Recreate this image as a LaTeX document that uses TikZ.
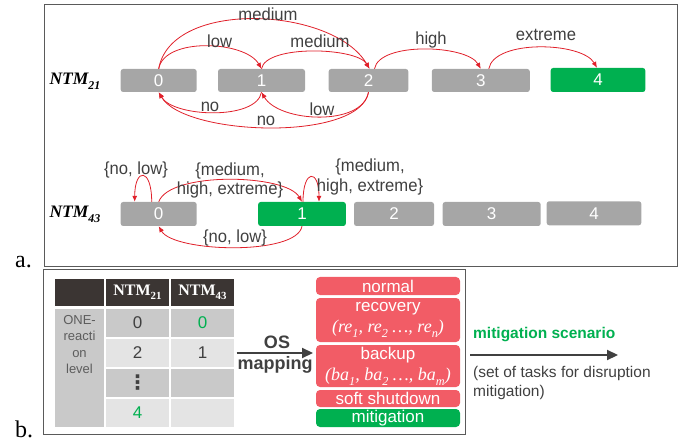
\documentclass[tikz,border=0pt]{standalone}
\usepackage{fontspec}
\usepackage{graphicx}
\setmainfont{Liberation Sans}
\newfontfamily\serf{Liberation Serif}
\newfontfamily\dejavu{DejaVu Sans}
\newfontfamily\narrow[FakeStretch=0.95]{Liberation Sans}
\usetikzlibrary{arrows.meta}
\definecolor{boxgray}{HTML}{A6A6A6}
\definecolor{grn}{HTML}{00B050}
\definecolor{arr}{HTML}{E0202A}
\definecolor{salmon}{HTML}{F25C66}
\definecolor{hdr}{HTML}{3B3533}
\definecolor{cellA}{HTML}{C9C9C9}
\definecolor{cellB}{HTML}{E4E4E4}
\definecolor{txt}{HTML}{404040}
\definecolor{frm}{HTML}{5A5A5A}
\newcommand\lsub[1]{\raisebox{-0.28em}{\scalebox{0.68}{#1}}}
\newcommand\fs[1]{\fontsize{#1}{#1}\selectfont}
\begin{document}
\begin{tikzpicture}[x=1pt,y=1pt,
  state/.style={rounded corners=2.5pt, fill=boxgray, text=white, font=\fs{17},
    minimum height=23pt, inner sep=0pt},
  lab/.style={font=\narrow\fontsize{17.5}{19.5}\selectfont, text=txt, inner sep=0pt, align=center},
  rarr/.style={draw=arr, line width=0.8pt, -{Latex[length=6pt,width=5pt]}},
  rowlab/.style={font=\fs{17.5}, inner sep=0pt},
  cell/.style={draw=white, line width=1.4pt, inner sep=0pt, font=\fs{17}, text=txt},
  osbox/.style={rounded corners=4pt, fill=salmon, text=white, minimum width=144pt,
    inner sep=0pt, font=\fontsize{17}{22}\selectfont, align=center},
  bigarr/.style={draw=txt, line width=2.2pt, -{Triangle[length=11pt,width=10pt]}},
  frame/.style={draw=frm, line width=1pt}
]
\useasboundingbox (0,0) rectangle (689,-441);

% ---------- panel a ----------
\draw[frame] (44,-5) rectangle (677,-267);
\node[font=\serf\fs{24}, anchor=base west, inner sep=0pt] (la) at (15,-268) {a.};

\node[rowlab] (n21) at (75,-81) {\serf\bfseries\itshape NTM\lsub{21}};
\node[state, minimum width=76pt] (a0) at (158.7,-80.5) {0};
\node[state, minimum width=87pt] (a1) at (261.5,-80.5) {1};
\node[state, minimum width=79.6pt] (a2) at (368.5,-80.5) {2};
\node[state, minimum width=98pt] (a3) at (480.8,-80.5) {3};
\node[state, minimum width=94.6pt, minimum height=24pt, fill=grn] (a4) at (598,-80) {4};

\draw[rarr] (a0.north) to[out=80,in=120,looseness=0.81] (a1.north);
\draw[rarr] (a0.north) to[out=80,in=120,looseness=0.87] ([xshift=1pt]a2.north);
\draw[rarr] (a1.north) to[out=80,in=120,looseness=0.59] ([xshift=1pt]a2.north);
\draw[rarr] ([xshift=6pt]a2.north) to[out=80,in=120,looseness=0.67] (a3.north);
\draw[rarr] ([xshift=8pt]a3.north) to[out=80,in=120,looseness=0.71] ([xshift=-1pt]a4.north);
\draw[rarr] (a1.south) to[out=-100,in=-60,looseness=0.72] (a0.south);
\draw[rarr] (a2.south) to[out=-100,in=-60,looseness=0.84] (a1.south);
\draw[rarr] (a2.south) to[out=-100,in=-60,looseness=0.62] (a0.south);

\node[lab] (tmed1) at (268,-14) {medium};
\node[lab] (tlow1) at (219.6,-41) {low};
\node[lab] (tmed2) at (320,-41) {medium};
\node[lab] (thigh) at (431,-40) {high};
\node[lab] (text) at (546,-35) {extreme};
\node[lab] (tno1) at (210,-107) {no};
\node[lab] (tlow2) at (322,-109) {low};
\node[lab] (tno2) at (266,-121) {no};

\node[rowlab] (n43) at (75,-214) {\serf\bfseries\itshape NTM\lsub{43}};
\node[state, minimum width=76pt, minimum height=24pt] (b0) at (158.7,-214) {0};
\node[state, minimum width=87.7pt, minimum height=24pt, fill=grn] (b1) at (302,-214) {1};
\node[state, minimum width=80pt, minimum height=24pt] (b2) at (394,-214) {2};
\node[state, minimum width=98pt, minimum height=24pt] (b3) at (491.7,-214) {3};
\node[state, minimum width=94.6pt, minimum height=24pt] (b4) at (594,-213.3) {4};

\draw[rarr] ([xshift=-7pt]b0.north) to[out=90,in=90,looseness=5.2] ([xshift=-24pt]b0.north);
\draw[rarr] (b0.north) to[out=70,in=120,looseness=0.58] (b1.north);
\draw[rarr] ([xshift=1pt]b1.north) to[out=90,in=90,looseness=5.3] ([xshift=17pt]b1.north);
\draw[rarr] (b1.south) to[out=-100,in=-60,looseness=0.54] (b0.south);

\node[lab] (tnl1) at (136,-169.5) {\{no, low\}};
\node[lab] (tmhe1) at (230,-180.5) {\{medium,\\high, extreme\}};
\node[lab] (tmhe2) at (370,-177) {\{medium,\\high, extreme\}};
\node[lab] (tnl2) at (235,-238) {\{no, low\}};

% ---------- panel b ----------
\draw[frame] (43,-270) rectangle (465,-434);
\node[font=\serf\fs{24}, anchor=base west, inner sep=0pt] (lb) at (15,-437) {b.};

% header
\node[cell, fill=hdr, minimum width=51pt, minimum height=29pt] (h1) at (79.5,-292.5) {};
\node[cell, fill=hdr, minimum width=65pt, minimum height=29pt, text=white, font=\serf\bfseries\fs{16}] (h2) at (137.5,-292.5) {NTM\lsub{21}};
\node[cell, fill=hdr, minimum width=65pt, minimum height=29pt, text=white, font=\serf\bfseries\fs{16}] (h3) at (202.5,-292.5) {NTM\lsub{43}};
% body
\node[cell, fill=cellA, minimum width=51pt, minimum height=120pt] (c1) at (79.5,-368) {};
\node[text=txt!85!white, font=\fontsize{13}{16.4}\selectfont, align=center, inner sep=0pt, anchor=north] (c1t) at (79.5,-315) {ONE-\\reacti\\on\\level};
\node[cell, fill=cellA, minimum width=65pt, minimum height=30pt] (r1c2) at (137.5,-323) {0};
\node[cell, fill=cellA, minimum width=65pt, minimum height=30pt, text=grn] (r1c3) at (202.5,-323) {0};
\node[cell, fill=cellB, minimum width=65pt, minimum height=30pt] (r2c2) at (137.5,-353) {2};
\node[cell, fill=cellB, minimum width=65pt, minimum height=30pt] (r2c3) at (202.5,-353) {1};
\node[cell, fill=cellA, minimum width=65pt, minimum height=30pt, font=\dejavu\bfseries\fs{20}] (r3c2) at (137.5,-383) {⋮};
\node[cell, fill=cellA, minimum width=65pt, minimum height=30pt] (r3c3) at (202.5,-383) {};
\node[cell, fill=cellB, minimum width=65pt, minimum height=30pt, text=grn] (r4c2) at (137.5,-413) {4};
\node[cell, fill=cellB, minimum width=65pt, minimum height=30pt] (r4c3) at (202.5,-413) {};

% OS mapping
\coordinate (osend) at (313,-353);
\draw[bigarr] ([xshift=1pt]r2c3.east) -- (osend);
\node[font=\bfseries\fs{18}, text=txt, inner sep=0pt] (os1) at (277,-342) {OS};
\node[font=\bfseries\fs{18}, text=txt, inner sep=0pt] (os2) at (275,-365) {mapping};

% OS boxes
\node[osbox, minimum height=18pt] (normal) at (388,-286) {normal};
\node[osbox, minimum height=44pt] (recov) at (388,-320)
  {recovery\\[-1pt]{\serf\itshape\fs{18}(re\lsub{1}, re\lsub{2} \dots, re\lsub{n})}};
\node[osbox, minimum height=42pt] (backup) at (388,-366)
  {backup\\[-1pt]{\serf\itshape\fs{18}(ba\lsub{1}, ba\lsub{2} \dots, ba\lsub{m})}};
\node[osbox, minimum height=17pt] (soft) at (388,-398.5) {soft shutdown};
\node[osbox, minimum height=18pt, fill=grn] (mitig) at (388,-418) {mitigation};

% mitigation scenario
\coordinate (ms1) at (470,-355);
\coordinate (ms2) at (618,-355);
\draw[bigarr] (ms1) -- (ms2);
\node[font=\bfseries\fs{15.5}, text=grn, anchor=west, inner sep=0pt] (msl) at (473,-335) {mitigation scenario};
\node[font=\fontsize{15.5}{19}\selectfont, text=txt, anchor=west, align=left, inner sep=0pt] (mst) at (473,-382.5)
  {(set of tasks for disruption\\mitigation)};
\end{tikzpicture}
\end{document}
